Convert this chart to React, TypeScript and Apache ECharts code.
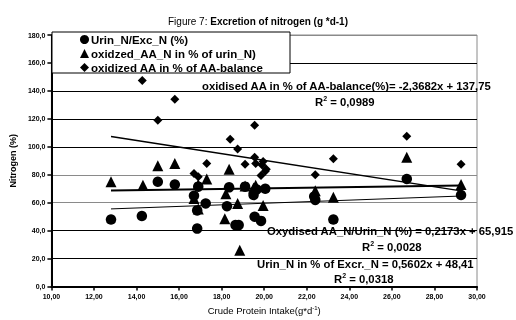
import React, { useEffect, useRef } from "react";
import * as echarts from "echarts";

const FONT = "'Liberation Sans', Arial, sans-serif";

const seriesNames = [
  "Urin_N/Exc_N (%)",
  "oxidzed_AA_N in % of urin_N)",
  "oxidized AA in % of AA-balance",
];

const circleX = [12.8, 14.25, 15.0, 15.8, 16.7, 16.9, 16.85, 16.85, 17.25, 18.35, 18.25, 18.65, 18.8, 19.1, 19.55, 19.85, 19.65, 20.05, 19.5, 22.35, 22.4, 23.25, 26.7, 29.25];
const circleY = [48, 50.5, 75, 73, 65, 71.5, 54.5, 41.5, 59.5, 71, 57.5, 44, 44, 71.5, 50, 47, 69.5, 70, 65.5, 64.5, 62, 48, 77, 65.5];

const triX = [12.8, 14.3, 15.0, 15.8, 16.7, 16.9, 16.9, 17.3, 18.2, 18.15, 18.35, 18.75, 18.85, 19.1, 19.6, 19.95, 19.5, 22.4, 23.25, 26.7, 29.25];
const triY = [75, 72.5, 86.5, 88, 63, 73, 55.5, 77, 66.5, 48.5, 84, 59.5, 26, 72, 72.5, 58, 70.5, 68.5, 64, 92.5, 73];

const diaX = [14.27, 15.0, 15.8, 16.7, 16.9, 17.3, 18.4, 18.75, 19.1, 19.55, 19.55, 19.6, 19.9, 19.95, 20.05, 19.85, 20.1, 22.4, 23.25, 26.7, 29.25];
const diaY = [147.5, 119, 134, 81, 78.5, 88, 105.5, 98.5, 87.5, 115.5, 92.5, 88, 87, 89.5, 82.5, 79.5, 84, 80, 91.5, 107.5, 87.5];

const trendSlopes = [0.5602, 0.2173, -2.3682];
const trendIntercepts = [48.41, 65.915, 137.75];
const trendXRange = [12.8, 29.25];
const trendWidths = [1, 2, 1.5];

const xTicks = [10, 12, 14, 16, 18, 20, 22, 24, 26, 28, 30];
const yTicks = [0, 20, 40, 60, 80, 100, 120, 140, 160, 180];

const labelTexts = [
  { t: "oxidised AA in % of AA-balance(%)= -2,3682x + 137,75", x: 202, y: 86 },
  { t: "R{sup|2} = 0,0989", x: 315, y: 102 },
  { t: "Oxydised AA_N/Urin_N (%) = 0,2173x + 65,915", x: 267, y: 231 },
  { t: "R{sup|2} = 0,0028", x: 362, y: 247 },
  { t: "Urin_N in % of Excr._N = 0,5602x + 48,41", x: 257, y: 264 },
  { t: "R{sup|2} = 0,0318", x: 334, y: 279 },
];

const zip = (xs: number[], ys: number[]) => xs.map((x, i) => [x, ys[i]]);

export default function App() {
  const ref = useRef<HTMLDivElement>(null);
  useEffect(() => {
    if (!ref.current) return;
    const chart = echarts.init(ref.current, null, { renderer: "svg" });
    const symbols = ["circle", "triangle", "diamond"];
    const sizes = [10.5, 11, 9];
    const datas = [zip(circleX, circleY), zip(triX, triY), zip(diaX, diaY)];
    const scatter = datas.map((d, i) => ({
      name: seriesNames[i],
      type: "scatter",
      data: d,
      symbol: symbols[i],
      symbolSize: sizes[i],
      itemStyle: { color: "#000", opacity: 1 },
      z: 3,
    }));
    const trends = trendSlopes.map((s, i) => ({
      name: "trend" + i,
      type: "line",
      data: trendXRange.map((x) => [x, s * x + trendIntercepts[i]]),
      symbol: "none",
      lineStyle: { color: "#000", width: trendWidths[i] },
      z: 2,
    }));
    const option: any = {
      animation: false,
      textStyle: { fontFamily: FONT },
      title: {
        text: "{n|Figure 7: }{b|Excretion of nitrogen (g *d-1)}",
        left: "center",
        top: 16,
        padding: [0, 0, 0, 14],
        textStyle: {
          rich: {
            n: { fontFamily: FONT, fontSize: 10, fontWeight: "normal", color: "#000" },
            b: { fontFamily: FONT, fontSize: 10, fontWeight: "bold", color: "#000" },
          },
        },
      },
      legend: {
        data: seriesNames,
        orient: "vertical",
        left: 80,
        top: 32,
        itemWidth: 9,
        itemHeight: 9,
        itemGap: 1,
        padding: [1, 0, 1, 0],
        textStyle: { fontFamily: FONT, fontSize: 11.5, fontWeight: "bold", color: "#000", lineHeight: 13, padding: [0, 0, 0, -3] },
        z: 6,
      },
      grid: {
        left: 48.5,
        right: 39,
        top: 35,
        bottom: 33,
        show: true,
        borderColor: "#8a8a8a",
        borderWidth: 1,
      },
      xAxis: {
        type: "value",
        min: xTicks[0],
        max: xTicks[xTicks.length - 1],
        interval: 2,
        name: "Crude Protein Intake(g*d{sup|-1})",
        nameLocation: "middle",
        nameGap: 17,
        nameTextStyle: {
          fontFamily: FONT,
          fontSize: 9.5,
          color: "#000",
          rich: { sup: { fontFamily: FONT, fontSize: 6, color: "#000", padding: [0, 0, 5, 0] } },
        },
        axisLine: { lineStyle: { color: "#000", width: 2 } },
        axisTick: { show: true, length: 4, lineStyle: { color: "#000", width: 1.5 } },
        axisLabel: {
          fontFamily: FONT,
          fontSize: 7,
          fontWeight: "bold",
          color: "#000",
          margin: 6,
          formatter: (v: number) => v.toFixed(2).replace(".", ","),
        },
        splitLine: { show: false },
      },
      yAxis: {
        type: "value",
        min: yTicks[0],
        max: yTicks[yTicks.length - 1],
        interval: 20,
        name: "Nitrogen (%)",
        nameLocation: "middle",
        nameRotate: 90,
        nameGap: 26,
        nameTextStyle: { fontFamily: FONT, fontSize: 9, fontWeight: "bold", color: "#000" },
        axisLine: { show: true, lineStyle: { color: "#000", width: 2 } },
        axisTick: { show: true, length: 4, lineStyle: { color: "#000", width: 1.5 } },
        axisLabel: {
          fontFamily: FONT,
          fontSize: 7,
          fontWeight: "bold",
          color: "#000",
          margin: 6,
          formatter: (v: number) => v.toFixed(1).replace(".", ","),
        },
        splitLine: {
          show: true,
          lineStyle: {
            color: ["#000", "#000", "#000", "#8a8a8a", "#8a8a8a", "#000", "#000", "#000", "#000", "#8a8a8a"],
            width: 1,
          },
        },
      },
      graphic: [
        {
          type: "rect",
          shape: { x: 52, y: 32, width: 238, height: 41 },
          style: { fill: "#fff", stroke: "#000", lineWidth: 1 },
          z: 5,
        },
        ...labelTexts.map((l) => ({
          type: "text",
          x: l.x,
          y: l.y,
          z: 1,
          style: {
            text: l.t,
            fill: "#000",
            font: `bold 11.3px ${FONT}`,
            verticalAlign: "middle",
            rich: {
              sup: { fontFamily: FONT, fontSize: 7, fontWeight: "bold", fill: "#000", padding: [0, 0, 7, 0] },
            },
          },
        })),
      ],
      series: [...scatter, ...trends],
    };
    chart.setOption(option);
    return () => chart.dispose();
  }, []);
  return <div ref={ref} style={{ position: "fixed", left: 0, top: 0, width: 516, height: 320 }} />;
}
